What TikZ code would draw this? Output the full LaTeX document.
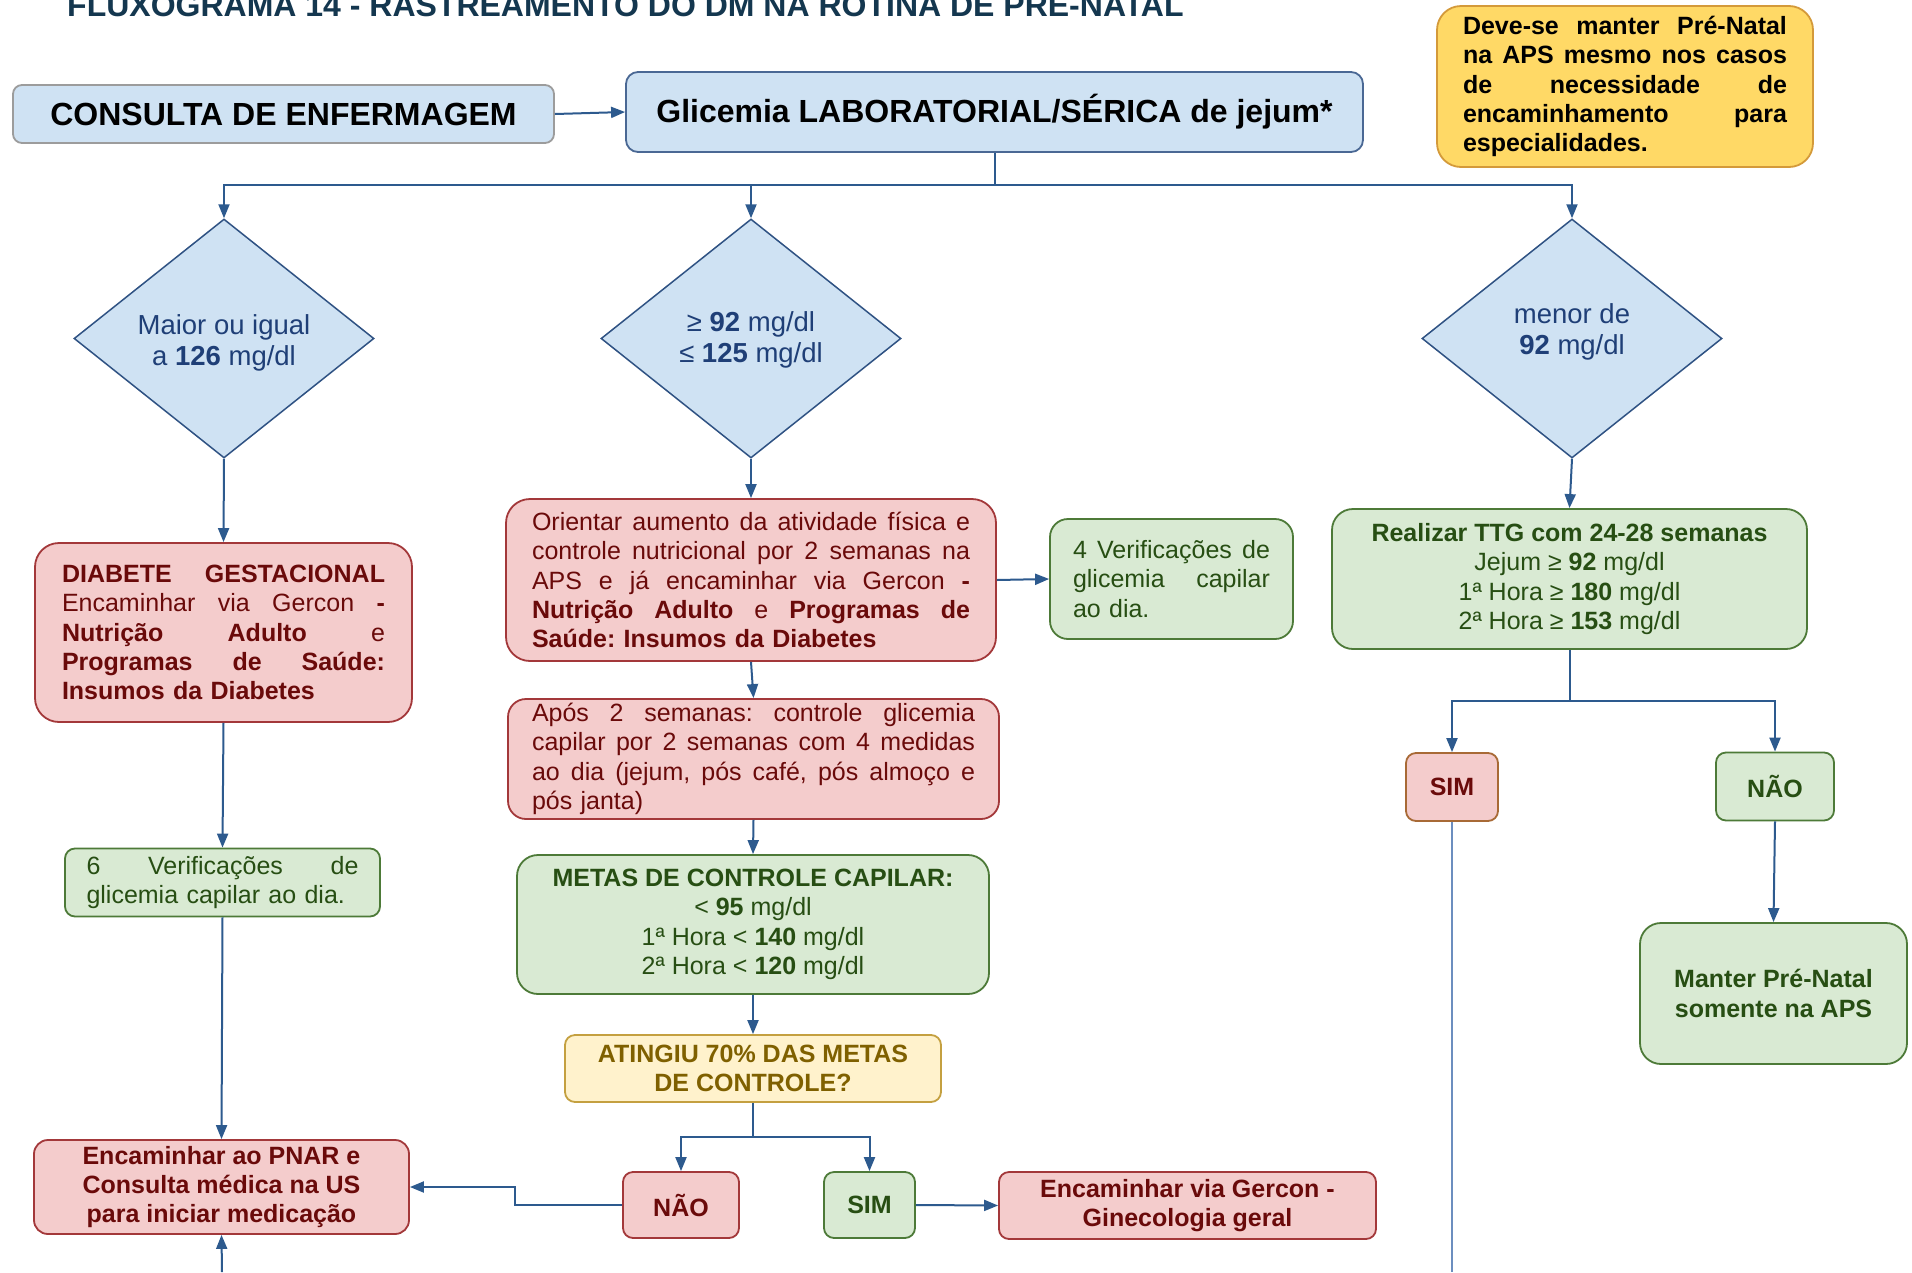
\documentclass[tikz,border=0pt]{standalone}
\usepackage{fontspec}
\setmainfont{Liberation Sans}
\usetikzlibrary{shapes.geometric,arrows.meta,calc}

\definecolor{bluefill}{HTML}{CFE2F3}
\definecolor{blueline}{HTML}{4A6894}
\definecolor{greyline}{HTML}{9C9C9C}
\definecolor{dialine}{HTML}{2F5283}
\definecolor{diatext}{HTML}{1F3F77}
\definecolor{pinkfill}{HTML}{F4CCCC}
\definecolor{pinkline}{HTML}{A3383A}
\definecolor{pinktext}{HTML}{6A0A0A}
\definecolor{greenfill}{HTML}{D9EAD3}
\definecolor{greenline}{HTML}{4D7A38}
\definecolor{greentext}{HTML}{274E13}
\definecolor{yelfill}{HTML}{FFF2CC}
\definecolor{yelline}{HTML}{C4A040}
\definecolor{yeltext}{HTML}{7F6000}
\definecolor{notefill}{HTML}{FFD966}
\definecolor{noteline}{HTML}{D49A3A}
\definecolor{arrowcol}{HTML}{2D5A8E}
\definecolor{simline}{HTML}{A86A36}
\definecolor{titlecol}{HTML}{14374F}
\definecolor{paleline}{HTML}{6C8EBF}

\frenchspacing
% one justified line: the word spaces stretch evenly to fill the given width
\newcommand\jl[2]{\leavevmode\hbox to #1{\spaceskip=0.28em plus 1fil\relax #2}}

\tikzset{
  base/.style={draw, line width=1.8pt, inner sep=0pt, align=center,
    font=\fontsize{25}{29.3}\selectfont},
  bluebox/.style={base, fill=bluefill, draw=blueline},
  pinkbox/.style={base, fill=pinkfill, draw=pinkline, text=pinktext},
  greenbox/.style={base, fill=greenfill, draw=greenline, text=greentext},
  yelbox/.style={base, fill=yelfill, draw=yelline, text=yeltext},
  notebox/.style={base, fill=notefill, draw=noteline, text=black},
  decision/.style={diamond, draw=dialine, line width=1.5pt, fill=bluefill,
    minimum width=300pt, minimum height=239pt, inner sep=0pt},
  dtext/.style={inner sep=0pt, text=diatext, align=center,
    font=\fontsize{27.5}{31.5}\selectfont},
  arr/.style={draw=arrowcol, line width=2pt, -{Triangle[length=14pt,width=11pt]}},
  wire/.style={draw=arrowcol, line width=2pt},
}

\begin{document}
\begin{tikzpicture}[x=1pt,y=-1pt]
\useasboundingbox (0,0) rectangle (1912,1272);
\fill[white] (0,0) rectangle (1912,1272);

% heading
\node[anchor=base west, inner sep=0pt, text=titlecol,
  font=\fontsize{32}{36}\selectfont\bfseries] (title) at (67,16)
  {FLUXOGRAMA 14 - RASTREAMENTO DO DM NA ROTINA DE PRÉ-NATAL};

% top row
\node[bluebox, draw=greyline, minimum width=541pt, minimum height=58pt,
  rounded corners=9pt, font=\fontsize{32}{36}\selectfont\bfseries] (cons) at (283.5,114)
  {CONSULTA DE ENFERMAGEM};
\node[bluebox, minimum width=737pt, minimum height=80pt, rounded corners=12pt,
  font=\fontsize{32}{36}\selectfont\bfseries] (glic) at (994.5,112)
  {Glicemia LABORATORIAL/SÉRICA de jejum*};
\node[notebox, minimum width=376pt, minimum height=161pt, rounded corners=24pt,
  text width=324pt, align=left, font=\fontsize{25}{29.3}\selectfont\bfseries] (note) at (1625,86.5)
  {\jl{324pt}{Deve-se manter Pré-Natal}\\
   \jl{324pt}{na APS mesmo nos casos}\\
   \jl{324pt}{de necessidade de}\\
   \jl{324pt}{encaminhamento para}\\
   especialidades.};

% decisions
\node[decision] (d1) at (224,338.5) {};
\node[decision] (d2) at (751,338.5) {};
\node[decision] (d3) at (1572,338.5) {};
\node[dtext] (d1t) at (224,343) {Maior ou igual\\a \textbf{126} mg/dl};
\node[dtext] (d2t) at (751,340) {≥ \textbf{92} mg/dl\\≤ \textbf{125} mg/dl};
\node[dtext] (d3t) at (1572,332) {menor de\\\textbf{92} mg/dl};

% left column
\node[pinkbox, minimum width=377pt, minimum height=179pt, rounded corners=24pt,
  text width=323pt, align=left] (dg) at (223.5,632.5)
  {\jl{323pt}{\textbf{DIABETE GESTACIONAL}}\\
   \jl{323pt}{Encaminhar via Gercon \textbf{-}}\\
   \jl{323pt}{\textbf{Nutrição Adulto} e}\\
   \jl{323pt}{\textbf{Programas de Saúde:}}\\
   \textbf{Insumos da Diabetes}};
\node[greenbox, minimum width=315pt, minimum height=68pt, rounded corners=10pt,
  text width=272pt, align=left] (v6) at (222.5,882.5)
  {\jl{272pt}{6 Verificações de}\\glicemia capilar ao dia.};
\node[pinkbox, minimum width=375pt, minimum height=94pt, rounded corners=14pt,
  font=\fontsize{25}{29.3}\selectfont\bfseries] (pnar) at (221.5,1187)
  {Encaminhar ao PNAR e\\Consulta médica na US\\para iniciar medicação};

% middle column
\node[pinkbox, minimum width=490pt, minimum height=162pt, rounded corners=24pt,
  text width=438pt, align=left] (ori) at (751,580)
  {\jl{438pt}{Orientar aumento da atividade física e}\\
   \jl{438pt}{controle nutricional por 2 semanas na}\\
   \jl{438pt}{APS e já encaminhar via Gercon \textbf{-}}\\
   \jl{438pt}{\textbf{Nutrição Adulto} e \textbf{Programas de}}\\
   \textbf{Saúde: Insumos da Diabetes}};
\node[greenbox, minimum width=243pt, minimum height=120pt, rounded corners=18pt,
  text width=197pt, align=left] (v4) at (1171.5,579)
  {\jl{197pt}{4 Verificações de}\\\jl{197pt}{glicemia capilar}\\ao dia.};
\node[pinkbox, minimum width=491pt, minimum height=120pt, rounded corners=18pt,
  text width=443pt, align=left] (apos) at (753.5,759)
  {\jl{443pt}{Após 2 semanas: controle glicemia}\\
   \jl{443pt}{capilar por 2 semanas com 4 medidas}\\
   \jl{443pt}{ao dia (jejum, pós café, pós almoço e}\\
   pós janta)};
\node[greenbox, minimum width=472pt, minimum height=139pt, rounded corners=21pt] (metas) at (753,924.5)
  {\textbf{METAS DE CONTROLE CAPILAR:}\\
   < \textbf{95} mg/dl\\
   1ª Hora < \textbf{140} mg/dl\\
   2ª Hora < \textbf{120} mg/dl};
\node[yelbox, minimum width=376pt, minimum height=67pt, rounded corners=10pt,
  font=\fontsize{25}{29.3}\selectfont\bfseries] (atg) at (753,1068.5)
  {ATINGIU 70\% DAS METAS\\DE CONTROLE?};
\node[pinkbox, minimum width=116pt, minimum height=66pt, rounded corners=10pt,
  font=\fontsize{25}{29.3}\selectfont\bfseries] (nao1) at (681,1205) {NÃO};
\node[greenbox, minimum width=91pt, minimum height=66pt, rounded corners=10pt,
  font=\fontsize{25}{29.3}\selectfont\bfseries] (sim1) at (869.5,1205) {SIM};
\node[pinkbox, minimum width=377pt, minimum height=67pt, rounded corners=10pt,
  font=\fontsize{25}{29.3}\selectfont\bfseries] (gine) at (1187.5,1205.5)
  {Encaminhar via Gercon -\\Ginecologia geral};

% right column
\node[greenbox, minimum width=475pt, minimum height=140pt, rounded corners=21pt] (ttg) at (1569.5,579)
  {\textbf{Realizar TTG com 24-28 semanas}\\
   Jejum ≥ \textbf{92} mg/dl\\
   1ª Hora ≥ \textbf{180} mg/dl\\
   2ª Hora ≥ \textbf{153} mg/dl};
\node[pinkbox, draw=simline, minimum width=92pt, minimum height=68pt, rounded corners=10pt,
  font=\fontsize{25}{29.3}\selectfont\bfseries] (sim2) at (1452,787) {SIM};
\node[greenbox, minimum width=118pt, minimum height=68pt, rounded corners=10pt,
  font=\fontsize{25}{29.3}\selectfont\bfseries] (nao2) at (1775,786.5) {NÃO};
\node[greenbox, minimum width=267pt, minimum height=141pt, rounded corners=21pt,
  font=\fontsize{25}{29.3}\selectfont\bfseries] (manter) at (1773.5,993.5)
  {Manter Pré-Natal\\somente na APS};

% branch rails and loose ends
\coordinate (busA) at (0,185);
\coordinate (busB) at (0,1137);
\coordinate (busC) at (0,701);
\coordinate (kink) at (515,1187);
\coordinate (pbot) at (222,1272);
\coordinate (sbot) at (1452,1272);

% connectors
\draw[arr] (cons.east) -- (glic.west);
\draw[arr] (glic.south) -- (glic.south |- busA) -| (d1.north);
\draw[arr] (glic.south |- busA) -| (d2.north);
\draw[arr] (glic.south |- busA) -| (d3.north);

\draw[arr] (d1.south) -- (dg.north);
\draw[arr] (dg.south) -- (v6.north);
\draw[arr] (v6.south) -- (pnar.north);
\draw[arr] (pbot) -- (pnar.south);

\draw[arr] (d2.south) -- (ori.north);
\draw[arr] (ori.east) -- (v4.west);
\draw[arr] (ori.south) -- (apos.north);
\draw[arr] (apos.south) -- (metas.north);
\draw[arr] (metas.south) -- (atg.north);
\draw[arr] (atg.south) -- (atg.south |- busB) -| (nao1.north);
\draw[arr] (atg.south |- busB) -| (sim1.north);
\draw[arr] (nao1.west) -| (kink) -- (pnar.east);
\draw[arr] (sim1.east) -- (gine.west);

\draw[arr] (d3.south) -- (ttg.north);
\draw[arr] (ttg.south) -- (ttg.south |- busC) -| (sim2.north);
\draw[arr] (ttg.south |- busC) -| (nao2.north);
\draw[arr] (nao2.south) -- (manter.north);
\draw[wire, draw=paleline] (sim2.south) -- (sbot);
\end{tikzpicture}
\end{document}
